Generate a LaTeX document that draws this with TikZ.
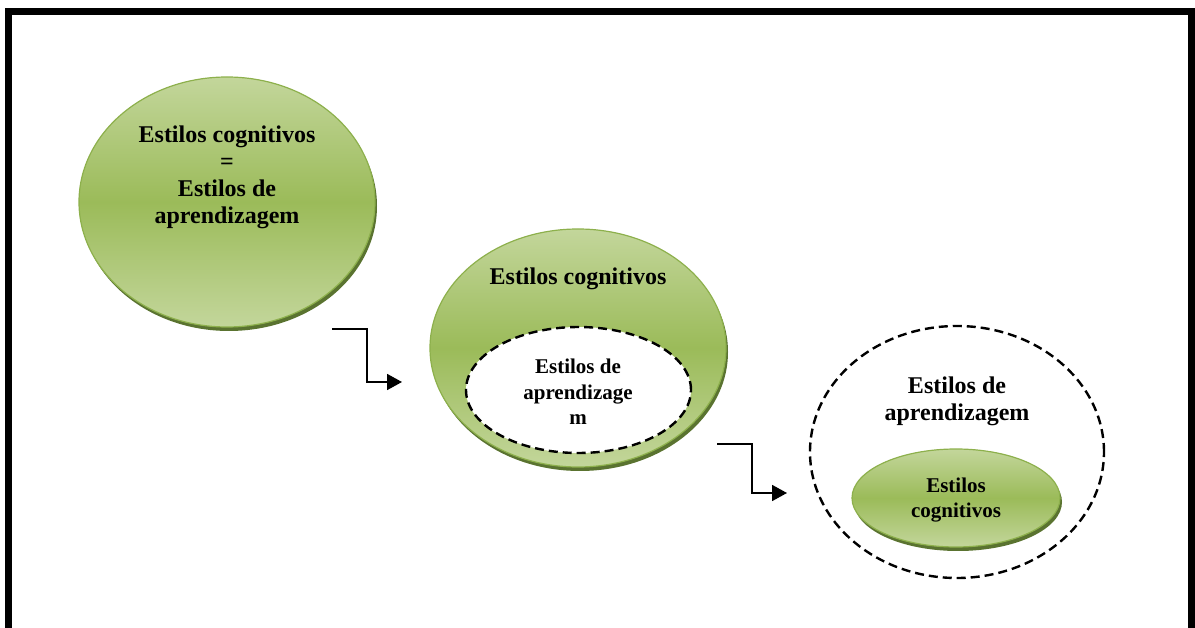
\documentclass[tikz,border=0pt]{standalone}
\usepackage{fontspec}
\setmainfont{Liberation Serif}
\usetikzlibrary{shapes.geometric,shadows,arrows.meta}

\definecolor{balllight}{HTML}{C3D69B}
\definecolor{ballmid}{HTML}{9BBB59}
\definecolor{ballline}{HTML}{8DB04C}
\definecolor{ballshadow}{HTML}{5A7330}

\tikzset{
  greenball/.style={ellipse, inner sep=0pt, draw=ballline, line width=1.2pt,
    top color=balllight, bottom color=balllight, middle color=ballmid,
    drop shadow={shadow xshift=2pt, shadow yshift=-4pt, fill=ballshadow, opacity=1}},
  dashring/.style={ellipse, inner sep=0pt, draw=black, line width=2.4pt,
    dash pattern=on 9pt off 5pt},
  bigtext/.style={align=center, text=black, inner sep=0pt,
    font=\bfseries\fontsize{24}{27}\selectfont},
  smalltext/.style={align=center, text=black, inner sep=0pt,
    font=\bfseries\fontsize{21}{25.5}\selectfont},
  elbow/.style={line width=1.8pt, -{Triangle[length=15pt,width=16pt]}},
  frameline/.style={draw=black, line width=7pt}
}

\begin{document}
\begin{tikzpicture}[x=1pt,y=1pt]
  \useasboundingbox (0,0) rectangle (1195,627);

  % outer frame (its lower edge lies below the page)
  \begin{scope}
    \clip (0,0) rectangle (1195,627);
    \draw[frameline] (8.5,615.5) rectangle (1191.5,-30);
  \end{scope}

  % first stage: both concepts taken as one
  \node[greenball, minimum width=296pt, minimum height=250pt] (e1) at (227,425) {};
  \node[bigtext] (t1) at (227,450) {Estilos cognitivos\\=\\Estilos de\\aprendizagem};

  % second stage: learning styles inside cognitive styles
  \node[greenball, minimum width=296pt, minimum height=238pt] (e2) at (578,279) {};
  \node[bigtext] (t2) at (578,348) {Estilos cognitivos};
  \node[dashring, fill=white, minimum width=225pt, minimum height=126pt] (e2in) at (578.5,237) {};
  \node[smalltext] (t2in) at (578,235) {Estilos de\\aprendizage\\m};

  % third stage: cognitive styles inside learning styles
  \node[dashring, minimum width=294pt, minimum height=252pt] (e3) at (957,175) {};
  \node[bigtext] (t3) at (957,226) {Estilos de\\aprendizagem};
  \node[greenball, minimum width=208pt, minimum height=98pt] (e3in) at (956,129) {};
  \node[smalltext] (t3in) at (956,127) {Estilos\\cognitivos};

  % elbow arrows between the stages
  \coordinate (a1s) at (332,298);
  \coordinate (a1e) at (402,245);
  \coordinate (a2s) at (717,183);
  \coordinate (a2e) at (787,134);
  \draw[elbow] (a1s) -- ++(35,0) |- (a1e);
  \draw[elbow] (a2s) -- ++(35,0) |- (a2e);
\end{tikzpicture}
\end{document}
